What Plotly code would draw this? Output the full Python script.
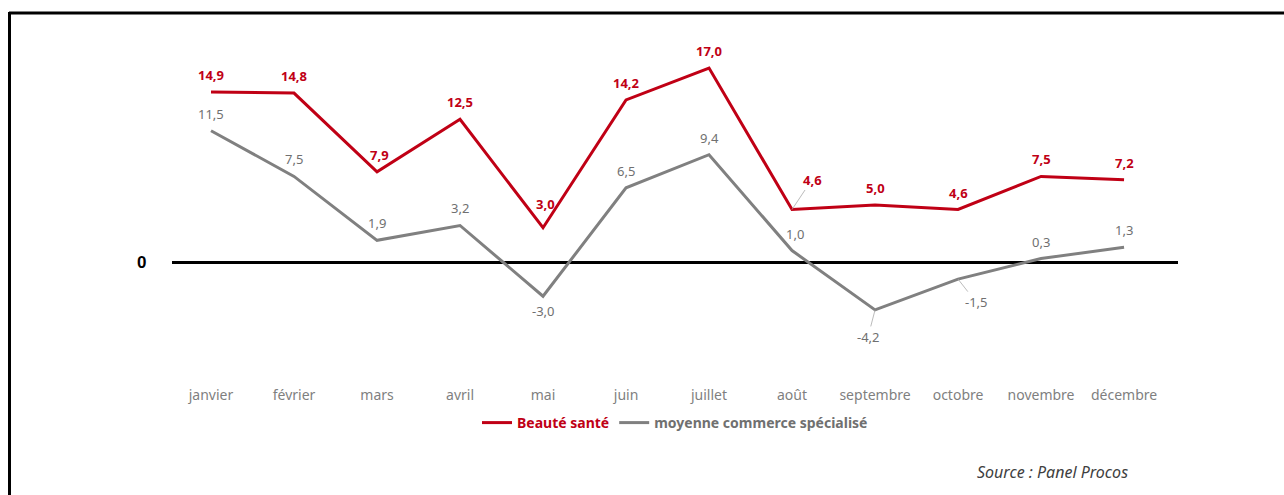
import plotly.graph_objects as go

months = ["janvier", "février", "mars", "avril", "mai", "juin", "juillet",
          "août", "septembre", "octobre", "novembre", "décembre"]
beaute = [14.9, 14.8, 7.9, 12.5, 3.0, 14.2, 17.0, 4.6, 5.0, 4.6, 7.5, 7.2]
moyenne = [11.5, 7.5, 1.9, 3.2, -3.0, 6.5, 9.4, 1.0, -4.2, -1.5, 0.3, 1.3]
series_names = ["Beauté santé", "moyenne commerce spécialisé"]

RED = "#c00015"
GRAY = "#808080"
FONT = "'Noto Sans', Lato, sans-serif"

x = list(range(len(months)))

fig = go.Figure()
fig.add_trace(go.Scatter(
    x=x, y=beaute, mode="lines", line=dict(color=RED, width=3),
    name=f"<b><span style='color:{RED}'>{series_names[0]}</span></b>"))
fig.add_trace(go.Scatter(
    x=x, y=moyenne, mode="lines", line=dict(color=GRAY, width=3),
    name=f"<b><span style='color:#707070'>{series_names[1]}</span></b>"))

def fmt(v):
    return f"{v:.1f}".replace(".", ",")

annotations = []
# red labels
for i, v in enumerate(beaute):
    a = dict(x=i, y=v, xref="x", yref="y", text=f"<b>{fmt(v)}</b>",
             font=dict(family=FONT, size=13, color=RED), showarrow=False,
             yshift=17)
    if i == 2:
        a["xshift"] = 2
    if i == 4:
        a["xshift"] = 2
        a["yshift"] = 24
    if i == 7:
        a.update(showarrow=True, arrowhead=0, arrowwidth=0.8, arrowcolor="#aaaaaa",
                 ax=20, ay=-30, yshift=0, xanchor="center")
    annotations.append(a)
# gray labels
for i, v in enumerate(moyenne):
    a = dict(x=i, y=v, xref="x", yref="y", text=fmt(v),
             font=dict(family=FONT, size=13, color="#707070"), showarrow=False,
             yshift=17 if v >= 0 else -15)
    if i == 7:
        a["xshift"] = 3
    if i == 8:
        a.update(showarrow=True, arrowhead=0, arrowwidth=0.8, arrowcolor="#aaaaaa",
                 ax=-7, ay=27, yshift=0)
    if i == 9:
        a.update(showarrow=True, arrowhead=0, arrowwidth=0.8, arrowcolor="#aaaaaa",
                 ax=18, ay=23, yshift=0)
    annotations.append(a)

# "0" label
annotations.append(dict(x=0, y=0, xref="paper", yref="y", text="<b>0</b>",
                        font=dict(family="Liberation Sans, Arial, sans-serif", size=17, color="black"),
                        showarrow=False, xanchor="center", xshift=-31))
# source
annotations.append(dict(x=(1052 - 172) / (1178 - 172), y=-(472 - 380) / 350,
                        xref="paper", yref="paper", text="<i>Source : Panel Procos</i>",
                        font=dict(family=FONT, size=16, color="#404040"),
                        showarrow=False, xanchor="center", yanchor="middle"))

fig.update_layout(
    width=1284, height=495,
    margin=dict(l=172, r=106, t=30, b=115),
    paper_bgcolor="white", plot_bgcolor="white",
    font=dict(family=FONT),
    showlegend=True,
    legend=dict(orientation="h", x=0.5, xanchor="center", y=-(423 - 380) / 350, yanchor="middle",
                font=dict(family=FONT, size=14), itemwidth=30, tracegroupgap=0,
                bgcolor="rgba(0,0,0,0)"),
    xaxis=dict(range=[-0.47, 11.65], tickmode="array", tickvals=x, ticktext=months,
               showgrid=False, zeroline=False, showline=False, ticks="",
               ticklabelstandoff=5,
               tickfont=dict(family=FONT, size=14, color="#7f7f7f")),
    yaxis=dict(range=[-10.34, 20.33], showgrid=False, zeroline=True, zerolinecolor="black",
               zerolinewidth=2.5, showticklabels=False, ticks="", showline=False),
    annotations=annotations,
    shapes=[
        dict(type="line", xref="paper", yref="paper", x0=-(172 - 9) / 1006, x1=(1284 - 172) / 1006,
             y0=(380 - 13) / 350, y1=(380 - 13) / 350, line=dict(color="black", width=3)),
        dict(type="line", xref="paper", yref="paper", x0=-(172 - 9.5) / 1006, x1=-(172 - 9.5) / 1006,
             y0=(380 - 12) / 350, y1=-(495 - 380) / 350, line=dict(color="black", width=3)),
    ],
)

fig.write_html("out.html")
